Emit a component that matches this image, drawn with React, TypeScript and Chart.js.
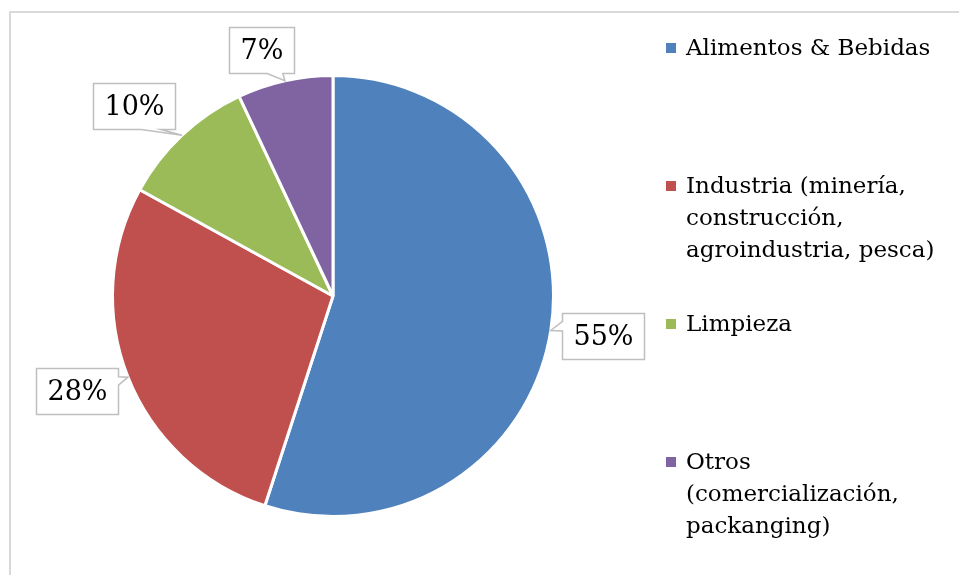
import React, { useEffect, useRef } from "react";
import { Chart, registerables } from "chart.js";

Chart.register(...registerables);

// ---- data ----
const categories: string[][] = [
  ["Alimentos & Bebidas"],
  ["Industria (minería,", "construcción,", "agroindustria, pesca)"],
  ["Limpieza"],
  ["Otros", "(comercialización,", "packanging)"],
];
const shares: number[] = [55, 28, 10, 7];
const sliceColors: string[] = ["#4F81BD", "#C0504D", "#9BBB59", "#8064A2"];

// ---- label callout offsets (box centre relative to the slice edge point) ----
const calloutOffsets: [number, number][] = [
  [52.5, 6],
  [-51, 13.5],
  [-48.5, -29.5],
  [-23, -31],
];

const FONT = '"DejaVu Serif", "Liberation Serif", serif';

const calloutPlugin = {
  id: "callouts",
  afterDatasetsDraw(chart: any) {
    const ctx: CanvasRenderingContext2D = chart.ctx;
    const meta = chart.getDatasetMeta(0);
    ctx.save();
    ctx.font = `27px ${FONT}`;
    meta.data.forEach((arc: any, i: number) => {
      const p = arc.getProps(["x", "y", "startAngle", "endAngle", "outerRadius"], true);
      const mid = (p.startAngle + p.endAngle) / 2;
      const tx = p.x + Math.cos(mid) * p.outerRadius;
      const ty = p.y + Math.sin(mid) * p.outerRadius;
      const text = `${shares[i]}%`;
      const tw = ctx.measureText(text).width;
      const w = Math.round(tw + 22);
      const h = 46;
      const cx = tx + calloutOffsets[i][0];
      const cy = ty + calloutOffsets[i][1];
      const l = Math.round(cx - w / 2) + 0.5;
      const t = Math.round(cy - h / 2) + 0.5;
      const r = l + w;
      const b = t + h;
      ctx.beginPath();
      ctx.moveTo(l, t);
      if (ty < t && tx >= l && tx <= r) {
        ctx.lineTo(l + w * 0.58, t);
        ctx.lineTo(tx, ty);
        ctx.lineTo(l + w * 0.82, t);
      }
      ctx.lineTo(r, t);
      if (tx > r && ty <= b) {
        ctx.lineTo(r, t + h * 0.18);
        ctx.lineTo(tx, ty);
        ctx.lineTo(r, t + h * 0.36);
      }
      ctx.lineTo(r, b);
      if (ty > b) {
        ctx.lineTo(l + w * 0.82, b);
        ctx.lineTo(tx, ty);
        ctx.lineTo(l + w * 0.58, b);
      }
      ctx.lineTo(l, b);
      if (tx < l && ty <= b) {
        ctx.lineTo(l, t + h * 0.38);
        ctx.lineTo(tx, ty);
        ctx.lineTo(l, t + h * 0.17);
      }
      ctx.closePath();
      ctx.fillStyle = "#FFFFFF";
      ctx.fill();
      ctx.strokeStyle = "#BFBFBF";
      ctx.lineWidth = 1.5;
      ctx.stroke();
      ctx.fillStyle = "#000000";
      ctx.textAlign = "center";
      ctx.textBaseline = "middle";
      ctx.fillText(text, (l + r) / 2, (t + b) / 2 + 1);
    });
    ctx.restore();
  },
};

const legendPlugin = {
  id: "sideLegend",
  afterDraw(chart: any) {
    const ctx: CanvasRenderingContext2D = chart.ctx;
    const labels: string[][] = chart.data.labels;
    const colors: string[] = chart.data.datasets[0].backgroundColor;
    const markerX = 666;
    const textX = 686;
    const firstY = 48;
    const step = 138;
    const lineH = 32;
    ctx.save();
    ctx.font = `23px ${FONT}`;
    ctx.textAlign = "left";
    ctx.textBaseline = "middle";
    labels.forEach((lines, i) => {
      const y = firstY + i * step;
      ctx.fillStyle = colors[i];
      ctx.fillRect(markerX, y - 5, 10, 10);
      ctx.fillStyle = "#000000";
      lines.forEach((ln, k) => ctx.fillText(ln, textX, y + k * lineH + 1));
    });
    ctx.restore();
  },
};

const framePlugin = {
  id: "frame",
  beforeDraw(chart: any) {
    const ctx: CanvasRenderingContext2D = chart.ctx;
    ctx.save();
    ctx.fillStyle = "#FFFFFF";
    ctx.fillRect(0, 0, chart.width, chart.height);
    ctx.strokeStyle = "#D9D9D9";
    ctx.lineWidth = 2;
    ctx.beginPath();
    ctx.moveTo(10, chart.height + 2);
    ctx.lineTo(10, 12);
    ctx.lineTo(chart.width + 2, 12);
    ctx.stroke();
    ctx.restore();
  },
};

export default function App() {
  const ref = useRef<HTMLCanvasElement | null>(null);
  useEffect(() => {
    if (!ref.current) return;
    const chart = new Chart(ref.current, {
      type: "pie",
      data: {
        labels: categories as any,
        datasets: [
          {
            data: shares,
            backgroundColor: sliceColors,
            borderColor: "#FFFFFF",
            borderWidth: 3,
            hoverBorderWidth: 3,
          },
        ],
      },
      options: {
        animation: false,
        responsive: false,
        devicePixelRatio: 1,
        layout: { padding: { left: 111, top: 74, right: 404, bottom: 57 } },
        plugins: {
          legend: { display: false },
          tooltip: { enabled: false },
        },
        events: [],
      },
      plugins: [framePlugin, calloutPlugin, legendPlugin],
    });
    return () => chart.destroy();
  }, []);
  return (
    <div style={{ position: "fixed", left: 0, top: 0, width: 959, height: 575, background: "#fff" }}>
      <canvas ref={ref} width={959} height={575} />
    </div>
  );
}
